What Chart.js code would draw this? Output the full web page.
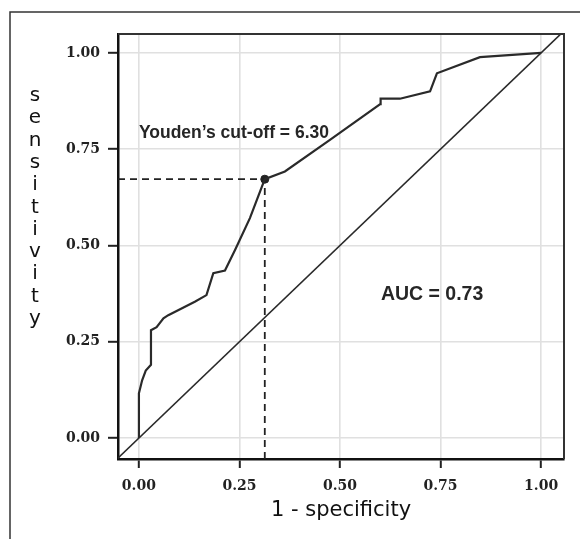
<!DOCTYPE html>
<html><head><meta charset="utf-8">
<script src="https://cdn.jsdelivr.net/npm/chart.js@4"></script>
<style>html,body{margin:0;padding:0;background:#fff}#wrap{width:580px;height:539px}</style>
</head><body><div id="wrap"><canvas id="c" width="580" height="539"></canvas></div>
<script>
// ROC curve (1 - specificity, sensitivity)
const fpr = [0, 0, 0.008, 0.017, 0.030, 0.030, 0.044, 0.061, 0.073, 0.139, 0.168, 0.185, 0.214, 0.239, 0.276, 0.313, 0.363, 0.475, 0.600, 0.601, 0.649, 0.724, 0.741, 0.848, 1.0];
const tpr = [0, 0.116, 0.150, 0.175, 0.190, 0.280, 0.288, 0.311, 0.319, 0.354, 0.371, 0.428, 0.435, 0.488, 0.571, 0.672, 0.692, 0.774, 0.867, 0.881, 0.881, 0.900, 0.947, 0.989, 1.0];
// Youden's optimal cut-off point
const youdenFpr = [0.313];
const youdenTpr = [0.672];
// Axes
const tickValues = [0, 0.25, 0.5, 0.75, 1];
const tickLabels = ['0.00', '0.25', '0.50', '0.75', '1.00'];
const xLimits = [-0.052, 1.057];
const yLimits = [-0.0545, 1.049];
const xTitle = '1 - specificity';
const yTitle = 'sensitivity';
const youdenText = 'Youden\u2019s cut-off = 6.30';
const aucText = 'AUC = 0.73';

const diagLo = Math.min(xLimits[0], yLimits[0]) - 0.02;
const diagHi = Math.max(xLimits[1], yLimits[1]) + 0.02;

const framePlugin = {
  id: 'frame',
  beforeDraw(chart) {
    const ctx = chart.ctx;
    ctx.save();
    ctx.fillStyle = '#fff';
    ctx.fillRect(0, 0, chart.width, chart.height);
    ctx.strokeStyle = '#333';
    ctx.lineWidth = 1.5;
    ctx.beginPath();
    ctx.moveTo(10, chart.height);
    ctx.lineTo(10, 12);
    ctx.lineTo(chart.width, 12);
    ctx.stroke();
    ctx.restore();
  },
  afterDraw(chart) {
    const ctx = chart.ctx;
    const a = chart.chartArea;
    ctx.save();
    ctx.strokeStyle = '#333';
    ctx.lineWidth = 2;
    ctx.beginPath();
    ctx.moveTo(a.left, a.top);
    ctx.lineTo(a.right, a.top);
    ctx.lineTo(a.right, a.bottom);
    ctx.stroke();
    // stacked y title
    ctx.fillStyle = '#111';
    ctx.font = '20px "DejaVu Sans"';
    ctx.textAlign = 'center';
    ctx.textBaseline = 'alphabetic';
    const letters = yTitle.split('');
    letters.forEach((ch, i) => {
      ctx.fillText(ch, 35, a.top + 67 + i * 22.3);
    });
    ctx.restore();
  }
};

const labelPlugin = {
  id: 'labels',
  afterDatasetsDraw(chart) {
    const ctx = chart.ctx;
    const xs = chart.scales.x, ys = chart.scales.y;
    ctx.save();
    ctx.fillStyle = '#262626';
    ctx.textBaseline = 'middle';
    ctx.font = 'bold 17.5px "Liberation Sans"';
    ctx.textAlign = 'left';
    ctx.fillText(youdenText, xs.getPixelForValue(0.0), ys.getPixelForValue(0.792));
    ctx.font = 'bold 19.5px "Liberation Sans"';
    ctx.textAlign = 'center';
    ctx.fillText(aucText, xs.getPixelForValue(0.729), ys.getPixelForValue(0.371));
    ctx.restore();
  }
};

const tickFont = { family: '"DejaVu Serif"', size: 14, weight: 'bold' };

new Chart(document.getElementById('c'), {
  type: 'scatter',
  data: {
    datasets: [
      {
        data: fpr.map((x, i) => ({ x, y: tpr[i] })),
        showLine: true, borderColor: '#2a2a2a', borderWidth: 2.2, pointRadius: 0, tension: 0
      },
      {
        data: [{ x: diagLo, y: diagLo }, { x: diagHi, y: diagHi }],
        showLine: true, borderColor: '#2a2a2a', borderWidth: 1.6, pointRadius: 0
      },
      {
        data: [{ x: xLimits[0], y: youdenTpr[0] }, { x: youdenFpr[0], y: youdenTpr[0] }],
        showLine: true, borderColor: '#222', borderWidth: 1.8, borderDash: [7, 5], pointRadius: 0
      },
      {
        data: [{ x: youdenFpr[0], y: yLimits[0] }, { x: youdenFpr[0], y: youdenTpr[0] }],
        showLine: true, borderColor: '#222', borderWidth: 1.8, borderDash: [7, 5], pointRadius: 0
      },
      {
        data: youdenFpr.map((x, i) => ({ x, y: youdenTpr[i] })),
        pointRadius: 4, pointBackgroundColor: '#222', pointBorderColor: '#222'
      }
    ]
  },
  options: {
    responsive: false,
    animation: false,
    devicePixelRatio: 1,
    layout: { padding: { left: 0, top: 34, right: 16, bottom: 0 } },
    plugins: { legend: { display: false }, tooltip: { enabled: false } },
    scales: {
      x: {
        type: 'linear', min: xLimits[0], max: xLimits[1],
        afterBuildTicks: s => { s.ticks = tickValues.map(v => ({ value: v })); },
        afterFit: s => { s.height = 80; },
        ticks: {
          callback: v => tickLabels[tickValues.indexOf(v)],
          font: tickFont, color: '#222', padding: 10, maxRotation: 0, autoSkip: false
        },
        grid: { color: '#e0e0e0', lineWidth: 1.6, tickColor: '#222', tickWidth: 2, tickLength: 9 },
        border: { color: '#111', width: 2.5 },
        title: { display: true, text: xTitle, font: { family: '"DejaVu Sans"', size: 21 }, color: '#111', padding: { top: 0, bottom: 16 } }
      },
      y: {
        type: 'linear', min: yLimits[0], max: yLimits[1],
        afterBuildTicks: s => { s.ticks = tickValues.map(v => ({ value: v })); },
        afterFit: s => { s.width = 118; },
        ticks: {
          callback: v => tickLabels[tickValues.indexOf(v)],
          font: tickFont, color: '#222', padding: 8, autoSkip: false
        },
        grid: { color: '#e0e0e0', lineWidth: 1.6, tickColor: '#222', tickWidth: 2, tickLength: 10 },
        border: { color: '#111', width: 2.5 }
      }
    }
  },
  plugins: [framePlugin, labelPlugin]
});
</script>
</body></html>
